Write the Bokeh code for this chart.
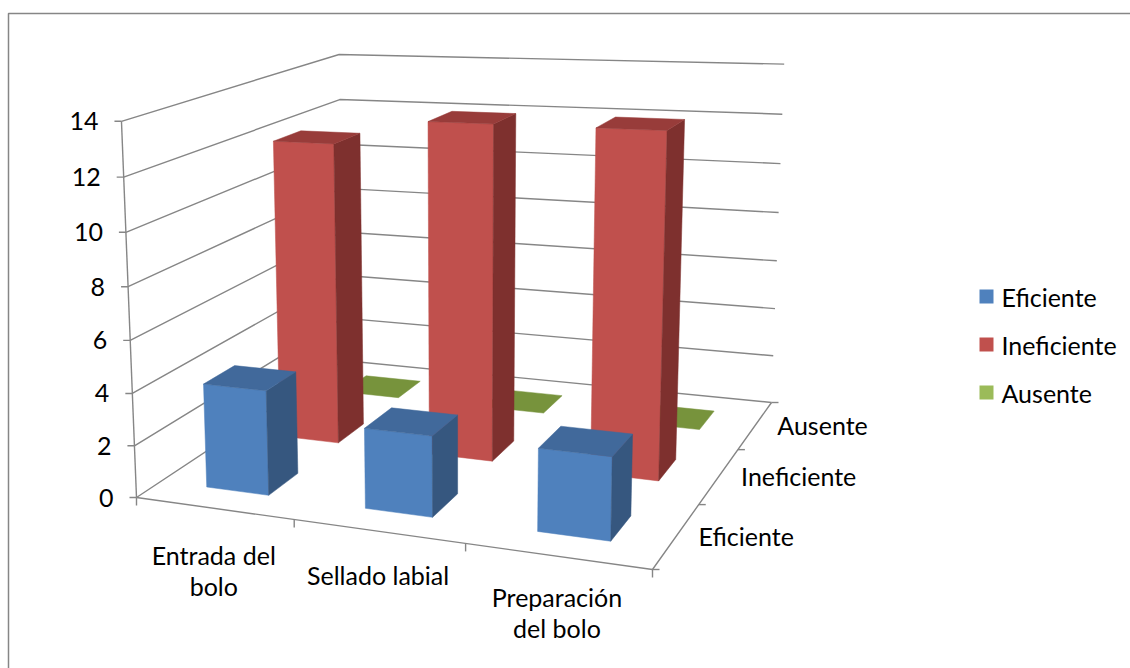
import numpy as np
from bokeh.plotting import figure
from bokeh.models import Range1d
from bokeh.embed import file_html
from bokeh.resources import INLINE
from bokeh.core.properties import value

# ---------------- data ----------------
categories = ["Entrada del bolo", "Sellado labial", "Preparación del bolo"]
category_lines = [["Entrada del", "bolo"], ["Sellado labial"], ["Preparación", "del bolo"]]
series = ["Eficiente", "Ineficiente", "Ausente"]
eficiente = [4, 3, 3]
ineficiente = [12, 13, 13]
ausente = [0, 0, 0]
y_ticks = [0, 2, 4, 6, 8, 10, 12, 14]
y_max = 14

values = [eficiente, ineficiente, ausente]

# ---------------- styles ----------------
front_col = ["#4F81BD", "#C0504D", "#9BBB59"]
side_col = ["#36577F", "#7E302E", "#6A8135"]
top_col = ["#41699B", "#983C3A", "#77933C"]
legend_col = ["#4F81BD", "#C0504D", "#9BBB59"]
grid_col = "#868686"
FONT = "Lato"
FS = "25px"

# ---------------- 3D projection (layout calibration of the box) ----------------
floor_uv = [(0, 0), (1, 0), (1, 1), (0, 1)]
floor_px = [(136, 497), (652, 569), (771, 402), (343, 360)]
top_uv = [(0, 0), (0, 1), (1, 1)]
top_px = [(120, 120), (340, 48), (783, 71)]

A, b = [], []
for (u, v), (X, Y) in zip(floor_uv, floor_px):
    A.append([u, v, 1, 0, 0, 0, -X * u, -X * v]); b.append(X)
    A.append([0, 0, 0, u, v, 1, -Y * u, -Y * v]); b.append(Y)
H = np.append(np.linalg.solve(np.array(A, float), np.array(b, float)), 1.0).reshape(3, 3)

rows, rhs = [], []
for (u, v), (X, Y) in zip(top_uv, top_px):
    q = H @ np.array([u, v, 1.0])
    Z = float(y_max)
    rows.append([Z, 0, -X * Z]); rhs.append(X * q[2] - q[0])
    rows.append([0, Z, -Y * Z]); rhs.append(Y * q[2] - q[1])
C = np.linalg.lstsq(np.array(rows), np.array(rhs), rcond=None)[0]


def proj(u, v, z):
    r = H @ np.array([u, v, 1.0]) + z * C
    return r[0] / r[2], r[1] / r[2]


def poly(pts):
    xy = [proj(*p) for p in pts]
    return [a for a, _ in xy], [c for _, c in xy]


p = figure(width=1130, height=668, x_range=Range1d(0, 1130), y_range=Range1d(668, 0),
           x_axis_type=None, y_axis_type=None, toolbar_location=None,
           output_backend="svg", min_border=0, outline_line_color=None,
           background_fill_color="white", border_fill_color="white")
p.grid.visible = False

# chart border
p.line([8, 8, 1140], [680, 13, 13], line_color=grid_col, line_width=1.5)

# walls gridlines
gx, gy = [], []
for t in y_ticks:
    xs, ys = poly([(0, 0, t), (0, 1, t), (1, 1, t)])
    gx.append(xs); gy.append(ys)
# floor front edge and depth axis
xs, ys = poly([(0, 0, 0), (1, 0, 0), (1, 1, 0)])
gx.append(xs); gy.append(ys)
# value axis
xs, ys = poly([(0, 0, 0), (0, 0, y_max)])
gx.append(xs); gy.append(ys)
# ticks
for t in y_ticks:
    x0, y0 = proj(0, 0, t)
    gx.append([x0 - 7, x0]); gy.append([y0, y0])
ncat = len(categories)
for i in range(ncat + 1):
    x0, y0 = proj(i / ncat, 0, 0)
    gx.append([x0, x0]); gy.append([y0, y0 + 8])
nser = len(series)
for j in range(nser + 1):
    x0, y0 = proj(1, j / nser, 0)
    gx.append([x0, x0 + 7]); gy.append([y0, y0])
p.multi_line(gx, gy, line_color=grid_col, line_width=1.4)

# bars (back row first, left to right)
frac = 0.4
fx, fy, fc = [], [], []
for j in reversed(range(nser)):
    for i in range(ncat):
        h = values[j][i]
        uc, vc = (i + 0.5) / ncat, (j + 0.5) / nser
        u0, u1 = uc - frac / ncat / 2, uc + frac / ncat / 2
        v0, v1 = vc - frac / nser / 2, vc + frac / nser / 2
        if h > 0:
            xs, ys = poly([(u0, v0, 0), (u1, v0, 0), (u1, v0, h), (u0, v0, h)])
            fx.append(xs); fy.append(ys); fc.append(front_col[j])
            xs, ys = poly([(u1, v0, 0), (u1, v1, 0), (u1, v1, h), (u1, v0, h)])
            fx.append(xs); fy.append(ys); fc.append(side_col[j])
        xs, ys = poly([(u0, v0, h), (u1, v0, h), (u1, v1, h), (u0, v1, h)])
        fx.append(xs); fy.append(ys); fc.append(top_col[j])
p.patches(fx, fy, fill_color=fc, line_color=fc, line_width=0.5)

# value tick labels
lx, ly, lt = [], [], []
for t in y_ticks:
    x0, y0 = proj(0, 0, t)
    lx.append(x0 - 23); ly.append(y0); lt.append(str(t))
p.text(lx, ly, text=lt, text_font=value(FONT), text_font_size=FS,
       text_align="right", text_baseline="middle", text_color="black")

# category labels
cx, cy, ct = [], [], []
for i, lines in enumerate(category_lines):
    uc = (i + 0.5) / ncat
    x0, y0 = proj(uc, 0, 0)
    for k, line in enumerate(lines):
        cx.append(x0); cy.append(y0 + 33 - 9 * uc + 31 * k); ct.append(line)
p.text(cx, cy, text=ct, text_font=value(FONT), text_font_size=FS,
       text_align="center", text_baseline="top", text_color="black")

# depth (series) labels
dx, dy, dt = [], [], []
for j, s in enumerate(series):
    x0, y0 = proj(1, (j + 0.5) / nser, 0)
    dx.append(x0 + 22); dy.append(y0); dt.append(s)
p.text(dx, dy, text=dt, text_font=value(FONT), text_font_size=FS,
       text_align="left", text_baseline="middle", text_color="black")

# legend
leg_y = [296 + 48 * j for j in range(nser)]
p.rect([986] * nser, leg_y, width=14, height=14, fill_color=legend_col, line_color=None)
p.text([1001] * nser, leg_y, text=series, text_font=value(FONT), text_font_size=FS,
       text_align="left", text_baseline="middle", text_color="black")

open("out.html", "w").write(file_html(p, INLINE))
